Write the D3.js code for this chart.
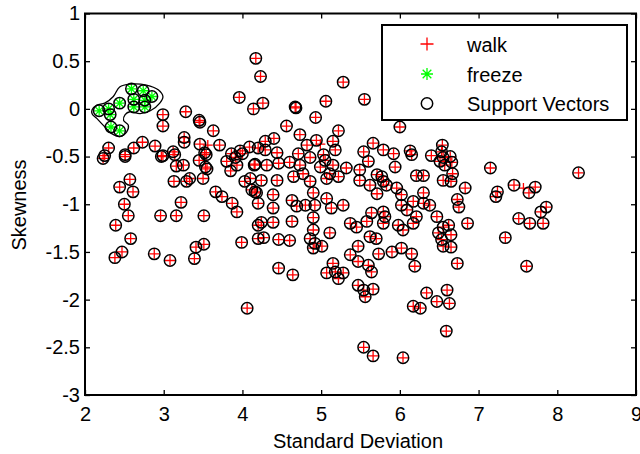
<!DOCTYPE html>
<html>
<head>
<meta charset="utf-8">
<script src="https://cdn.jsdelivr.net/npm/d3@7"></script>
<style>
    body { margin: 0; background: #fff; }
    text { font-family: "Liberation Sans", Arial, Helvetica, sans-serif; }
</style>
</head>
<body>
<div id="chart"></div>
<script>
// walk samples (all of them are support vectors)
const walkPoints = [
    [4.17, 0.53], [4.23, 0.34], [3.96, 0.12], [4.14, 0.00], [2.99, -0.06], [2.99, -0.18],
    [3.28, -0.03], [3.45, -0.12], [3.46, -0.14], [3.63, -0.23], [2.30, -0.41], [2.25, -0.49],
    [2.51, -0.48], [2.62, -0.41], [2.73, -0.35], [2.89, -0.39], [2.99, -0.49], [3.12, -0.45],
    [3.26, -0.35], [3.26, -0.30], [3.46, -0.37], [3.52, -0.46], [3.71, -0.38], [3.86, -0.47],
    [3.97, -0.44], [4.09, -0.40], [4.20, -0.41],
    [5.28, 0.28], [4.26, 0.06], [4.67, 0.02], [4.68, 0.01], [5.06, 0.08], [5.55, 0.10],
    [4.93, -0.09], [4.56, -0.18], [5.22, -0.23], [6.00, -0.19], [4.73, -0.27], [4.94, -0.33],
    [4.40, -0.31], [4.29, -0.34], [4.82, -0.38], [5.15, -0.34], [5.18, -0.43], [5.54, -0.45],
    [5.66, -0.36], [5.79, -0.43], [5.92, -0.47], [6.13, -0.44], [6.15, -0.48], [6.40, -0.49],
    [6.54, -0.38], [4.44, -0.46], [4.71, -0.47], [5.03, -0.48], [4.29, -0.43], [6.64, -0.50],
    [2.23, -0.52], [2.51, -0.50], [2.57, -0.74], [2.44, -0.82], [2.61, -0.87], [2.50, -1.00],
    [2.55, -1.12], [2.39, -1.22], [2.58, -1.36], [2.38, -1.56], [2.47, -1.50], [2.88, -1.52],
    [3.08, -1.59], [2.96, -1.12], [3.16, -1.12], [3.22, -0.98], [3.13, -0.76], [3.29, -0.76],
    [3.33, -0.73], [3.50, -0.73], [3.51, -1.12], [3.39, -1.57], [3.41, -1.45], [3.51, -1.42],
    [3.99, -1.40], [4.06, -2.09], [2.97, -0.50], [3.14, -0.48], [3.16, -0.60], [3.25, -0.59],
    [3.45, -0.54], [3.54, -0.48], [3.53, -0.61], [3.55, -0.63], [3.66, -0.87], [3.74, -0.92],
    [3.87, -0.99], [3.93, -1.08], [3.80, -0.55], [3.85, -0.65], [3.91, -0.51], [3.93, -0.59],
    [4.00, -0.47], [4.15, -0.59], [4.03, -0.76], [4.10, -0.73], [4.12, -0.85], [4.18, -0.88],
    [4.20, -0.99], [4.20, -1.22], [4.20, -1.36],
    [4.86, -0.51], [5.05, -0.54], [4.16, -0.58], [4.31, -0.59], [4.46, -0.57], [4.60, -0.56],
    [4.73, -0.59], [4.99, -0.61], [5.15, -0.59], [5.32, -0.62], [5.49, -0.64], [5.60, -0.55],
    [5.94, -0.61], [6.55, -0.51], [6.57, -0.59], [6.21, -0.70], [6.30, -0.70], [6.55, -0.75],
    [4.24, -0.75], [4.44, -0.75], [4.65, -0.71], [4.77, -0.68], [4.86, -0.76], [5.07, -0.73],
    [5.11, -0.68], [5.22, -0.71], [5.49, -0.75], [5.71, -0.69], [5.77, -0.71], [5.79, -0.76],
    [5.83, -0.80], [5.62, -0.80], [5.71, -0.89], [4.16, -0.87], [4.39, -0.90], [4.39, -1.04],
    [4.63, -0.96], [4.90, -0.88], [4.80, -1.01], [4.92, -1.01], [5.07, -0.94], [5.13, -1.04],
    [5.28, -1.01], [4.69, -1.02], [4.90, -1.14], [4.24, -1.19], [4.39, -1.19], [4.63, -1.18],
    [5.37, -1.20], [5.45, -1.24], [5.58, -1.18], [5.64, -1.09], [5.79, -1.08], [5.81, -1.13],
    [5.79, -1.20], [5.96, -0.83], [6.02, -0.90], [6.02, -1.01], [6.09, -1.06], [6.17, -0.97],
    [6.30, -0.88], [6.30, -0.99], [6.38, -1.01], [6.47, -1.13], [6.55, -1.24], [6.21, -1.13],
    [5.98, -1.22], [6.04, -1.27], [6.17, -1.20], [4.27, -1.35], [4.46, -1.37], [4.60, -1.38],
    [4.90, -1.27], [5.11, -1.30], [4.86, -1.36], [4.92, -1.41], [5.01, -1.44], [4.90, -1.46],
    [5.47, -1.44], [5.37, -1.53], [5.47, -1.60], [5.62, -1.34], [5.70, -1.36], [5.73, -1.52],
    [5.90, -1.50], [6.02, -1.46], [6.15, -1.52], [6.19, -1.65], [6.49, -1.30], [6.53, -1.37],
    [6.55, -1.44], [5.15, -1.62], [5.18, -1.71], [5.28, -1.72], [5.07, -1.72], [5.22, -1.78],
    [5.60, -1.64], [5.64, -1.71], [4.46, -1.67], [4.64, -1.74], [5.47, -1.85], [5.54, -1.90],
    [5.66, -1.89], [5.56, -1.97], [6.34, -1.93], [6.47, -2.02], [6.60, -1.90], [6.17, -2.07],
    [6.26, -2.09],
    [6.53, -0.45], [6.51, -0.55], [6.66, -0.56], [6.67, -0.68], [6.65, -0.76], [7.15, -0.62],
    [8.27, -0.67], [6.83, -0.83], [6.73, -0.95], [6.75, -1.03], [7.24, -0.87], [7.22, -0.92],
    [7.45, -0.80], [7.72, -0.82], [7.64, -0.88], [7.86, -1.03], [7.79, -1.08], [7.51, -1.15],
    [7.65, -1.20], [7.82, -1.20], [6.86, -1.20], [6.62, -1.22], [6.65, -1.32], [6.65, -1.45],
    [7.34, -1.35], [6.73, -1.62], [7.61, -1.65], [6.63, -2.04],
    [5.54, -2.50], [5.66, -2.59], [6.04, -2.61], [6.59, -2.33]
];

// walk samples that are not support vectors
const walkOnly = [[7.57, -0.83], [4.99, -0.37], [3.56, -0.38]];

// freeze samples (all support vectors)
const freezePoints = [
    [2.18, -0.02], [2.30, 0.00], [2.32, -0.06], [2.44, 0.06], [2.33, -0.19], [2.44, -0.23],
    [2.59, 0.21], [2.74, 0.19], [2.62, 0.10], [2.62, 0.02], [2.76, 0.09], [2.85, 0.13],
    [2.76, 0.02]
];

// SVM decision boundary
const boundary = [
    [2.09, -0.01], [2.15, 0.04], [2.25, 0.06], [2.36, 0.13], [2.44, 0.23], [2.57, 0.26],
    [2.78, 0.25], [2.93, 0.20], [2.99, 0.13], [2.95, 0.06], [2.83, -0.02], [2.70, -0.05],
    [2.57, -0.03], [2.51, -0.06], [2.49, -0.12], [2.55, -0.17], [2.53, -0.24], [2.44, -0.29],
    [2.34, -0.26], [2.23, -0.17], [2.15, -0.10], [2.09, -0.05]
];

const xTicks = [2, 3, 4, 5, 6, 7, 8, 9];
const yTicks = [-3, -2.5, -2, -1.5, -1, -0.5, 0, 0.5, 1];
const legendLabels = ["walk", "freeze", "Support Vectors"];

const plusPath = (x, y, s) => `M${x - s},${y}h${2 * s}M${x},${y - s}v${2 * s}`;
const starPath = (x, y, s) => {
    const d = s * 0.72;
    return plusPath(x, y, s) + `M${x - d},${y - d}l${2 * d},${2 * d}M${x - d},${y + d}l${2 * d},${-2 * d}`;
};

const svg = d3.select("#chart").append("svg")
    .attr("width", 640)
    .attr("height", 454);

const x = d3.scaleLinear().domain([2, 9]).range([85, 636]);
const y = d3.scaleLinear().domain([-3, 1]).range([395, 13.5]);

const fontSize = "20px";
const fmt = d => String(d); // plain "-0.5", "2" like matlab

// axes, ticks pointing inwards like matlab
svg.append("g")
    .attr("transform", "translate(0,395)")
    .call(d3.axisBottom(x).tickValues(xTicks).tickSizeInner(-5).tickSizeOuter(0).tickPadding(12).tickFormat(fmt))
    .call(g => g.select(".domain").remove())
    .call(g => g.selectAll("text").style("font-size", fontSize).attr("fill", "#000"));

svg.append("g")
    .attr("transform", "translate(0,13.5)")
    .call(d3.axisTop(x).tickValues(xTicks).tickSizeInner(-5).tickSizeOuter(0).tickFormat(""))
    .call(g => g.select(".domain").remove());

svg.append("g")
    .attr("transform", "translate(85,0)")
    .call(d3.axisLeft(y).tickValues(yTicks).tickSizeInner(-5).tickSizeOuter(0).tickPadding(5).tickFormat(fmt))
    .call(g => g.select(".domain").remove())
    .call(g => g.selectAll("text").style("font-size", fontSize).attr("fill", "#000"));

svg.append("g")
    .attr("transform", "translate(636,0)")
    .call(d3.axisRight(y).tickValues(yTicks).tickSizeInner(-5).tickSizeOuter(0).tickFormat(""))
    .call(g => g.select(".domain").remove());

svg.selectAll(".tick line").attr("stroke", "#000").attr("stroke-width", 1.3);

// walk markers
svg.append("g").selectAll("path")
    .data(walkPoints.concat(walkOnly))
    .enter().append("path")
    .attr("d", d => plusPath(x(d[0]), y(d[1]), 5))
    .attr("stroke", "#ff0000")
    .attr("stroke-width", 1.3)
    .attr("fill", "none");

// freeze markers
svg.append("g").selectAll("path")
    .data(freezePoints)
    .enter().append("path")
    .attr("d", d => starPath(x(d[0]), y(d[1]), 5))
    .attr("stroke", "#00ff00")
    .attr("stroke-width", 1.3)
    .attr("fill", "none");

// support vector circles
svg.append("g").selectAll("circle")
    .data(walkPoints.concat(freezePoints))
    .enter().append("circle")
    .attr("cx", d => x(d[0]))
    .attr("cy", d => y(d[1]))
    .attr("r", 5.7)
    .attr("fill", "none")
    .attr("stroke", "#000")
    .attr("stroke-width", 1.5);

svg.append("path")
    .datum(boundary)
    .attr("d", d3.line().x(d => x(d[0])).y(d => y(d[1])).curve(d3.curveCatmullRomClosed))
    .attr("fill", "none")
    .attr("stroke", "#000")
    .attr("stroke-width", 1.3);

// box
svg.append("rect")
    .attr("x", 85).attr("y", 13.5)
    .attr("width", 551).attr("height", 381.5)
    .attr("fill", "none")
    .attr("stroke", "#000")
    .attr("stroke-width", 2);

// axis labels
svg.append("text")
    .attr("x", 358).attr("y", 448)
    .attr("text-anchor", "middle")
    .style("font-size", fontSize)
    .text("Standard Deviation");

svg.append("text")
    .attr("transform", "translate(26,205) rotate(-90)")
    .attr("text-anchor", "middle")
    .style("font-size", fontSize)
    .text("Skewness");

// legend
const legend = svg.append("g");
legend.append("rect")
    .attr("x", 382).attr("y", 25)
    .attr("width", 245).attr("height", 95)
    .attr("fill", "#fff")
    .attr("stroke", "#000")
    .attr("stroke-width", 2);

const rowY = [44, 74, 103.5];
legend.append("path").attr("d", plusPath(427, rowY[0], 6.5))
    .attr("stroke", "#ff0000").attr("stroke-width", 1.3);
legend.append("path").attr("d", starPath(427, rowY[1], 6))
    .attr("stroke", "#00ff00").attr("stroke-width", 1.3);
legend.append("circle").attr("cx", 427).attr("cy", rowY[2]).attr("r", 5.7)
    .attr("fill", "none").attr("stroke", "#000").attr("stroke-width", 1.5);

legend.selectAll("text.lab")
    .data(legendLabels)
    .enter().append("text")
    .attr("class", "lab")
    .attr("x", 467)
    .attr("y", (d, i) => rowY[i] + 7.5)
    .style("font-size", fontSize)
    .text(d => d);
</script>
</body>
</html>
